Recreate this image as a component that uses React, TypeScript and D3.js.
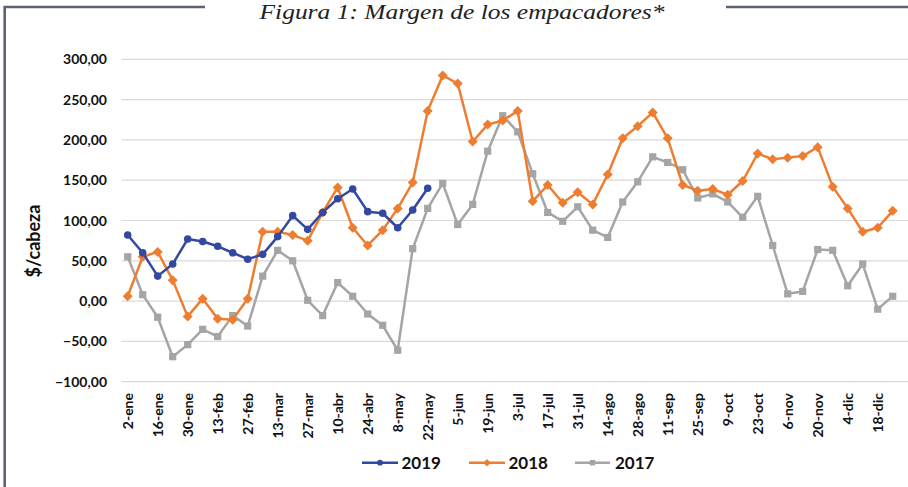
import * as d3 from 'd3';
import React from 'react';

// weekly series, one value per week starting 2-ene
const values2019 = [82, 60, 31, 46, 77, 74, 68, 60, 52, 58, 80, 106, 89, 110, 127, 139, 111, 109, 91, 113, 140];
const values2018 = [6, 55, 61, 26, -19, 3, -22, -23, 3, 86, 86, 82, 75, 110, 141, 91, 69, 88, 115, 147, 236, 280, 270, 198,
  219, 224, 236, 124, 144, 122, 135, 120, 157, 202, 217, 234, 202, 144, 137, 139, 132, 149, 183, 176, 178, 180, 191, 142, 115, 86, 91, 112];
const values2017 = [55, 8, -20, -69, -54, -35, -44, -18, -31, 31, 63, 50, 1, -18, 23, 6, -16, -30, -61, 65, 115, 146, 95, 120,
  186, 230, 210, 158, 110, 99, 117, 88, 79, 123, 148, 179, 172, 163, 128, 133, 123, 104, 130, 69, 9, 12, 64, 63, 19, 46, -10, 6];
const tickLabels = ['2-ene', '16-ene', '30-ene', '13-feb', '27-feb', '13-mar', '27-mar', '10-abr', '24-abr', '8-may', '22-may',
  '5-jun', '19-jun', '3-jul', '17-jul', '31-jul', '14-ago', '28-ago', '11-sep', '25-sep', '9-oct', '23-oct', '6-nov', '20-nov',
  '4-dic', '18-dic'];
const yTicks = [-100, -50, 0, 50, 100, 150, 200, 250, 300];

const W = 908;
const H = 487;
const font = 'Lato, "Open Sans", sans-serif';

const series = [
  { name: '2019', color: '#3349a0', values: values2019, marker: 'circle' },
  { name: '2018', color: '#ed7d31', values: values2018, marker: 'diamond' },
  { name: '2017', color: '#a5a5a5', values: values2017, marker: 'square' },
];

function Marker({ type, x, y, color, s = 1 }: { type: string; x: number; y: number; color: string; s?: number }) {
  if (type === 'circle') return <circle cx={x} cy={y} r={3.8 * s} fill={color} />;
  if (type === 'diamond') {
    const r = 5 * s;
    return <path d={`M${x},${y - r}L${x + r},${y}L${x},${y + r}L${x - r},${y}Z`} fill={color} />;
  }
  const h = 3.6 * s;
  return <rect x={x - h} y={y - h} width={h * 2} height={h * 2} fill={color} />;
}

export default function App() {
  const x = d3.scalePoint<number>().domain(d3.range(52)).range([127.7, 892.7]);
  const y = d3.scaleLinear().domain([-100, 300]).range([381.7, 59.3]);
  const line = d3.line<number>().x((_, i) => x(i)!).y((d) => y(d));
  const fmt = (v: number) => d3.format('.2f')(v).replace('.', ',');

  const legend = [
    { x0: 362, x1: 398, tx: 401.5 },
    { x0: 469, x1: 505, tx: 508.5 },
    { x0: 575, x1: 610, tx: 615 },
  ];

  return (
    <svg width={W} height={H} style={{ position: 'absolute', left: 0, top: 0, background: '#fff' }}>
      {/* frame */}
      <path d="M4.7,487V7H205" fill="none" stroke="#5b6470" strokeWidth={2.6} />
      <path d="M726,7H908" fill="none" stroke="#5b6470" strokeWidth={2.6} />
      <text x={462} y={19} textAnchor="middle" fontFamily='"Liberation Serif", serif' fontStyle="italic" fontSize={21}
        textLength={405} lengthAdjust="spacingAndGlyphs" fill="#222">
        Figura 1: Margen de los empacadores*
      </text>

      {/* grid + y axis */}
      {yTicks.map((t) => (
        <g key={t}>
          <line x1={121.5} x2={908} y1={y(t)} y2={y(t)} stroke="#d9d9d9" strokeWidth={1.2} />
          <text x={107} y={y(t)} dy="0.36em" textAnchor="end" fontFamily={font} fontWeight={700} fontSize={14} fill="#111">
            {fmt(t)}
          </text>
        </g>
      ))}
      <text transform="translate(40,241) rotate(-90)" textAnchor="middle" fontFamily={font} fontWeight={700} fontSize={18} fill="#111">
        $/cabeza
      </text>

      {/* x axis labels */}
      {tickLabels.map((l, i) => (
        <text key={l} transform={`translate(${x(i * 2)},393) rotate(-90)`} dy="0.36em" textAnchor="end"
          fontFamily={font} fontWeight={700} fontSize={14} fill="#111">
          {l}
        </text>
      ))}

      {/* series, drawn oldest first */}
      {[...series].reverse().map((s) => (
        <g key={s.name}>
          <path d={line(s.values)!} fill="none" stroke={s.color} strokeWidth={2.5} strokeLinejoin="round" />
          {s.values.map((v, i) => (
            <Marker key={i} type={s.marker} x={x(i)!} y={y(v)} color={s.color} />
          ))}
        </g>
      ))}

      {/* legend */}
      {series.map((s, i) => (
        <g key={s.name}>
          <line x1={legend[i].x0} x2={legend[i].x1} y1={462.7} y2={462.7} stroke={s.color} strokeWidth={2.5} />
          <Marker type={s.marker} x={(legend[i].x0 + legend[i].x1) / 2} y={462.7} color={s.color} s={0.75} />
          <text x={legend[i].tx} y={468.5} fontFamily={font} fontWeight={700} fontSize={17} fill="#111">
            {s.name}
          </text>
        </g>
      ))}
    </svg>
  );
}
